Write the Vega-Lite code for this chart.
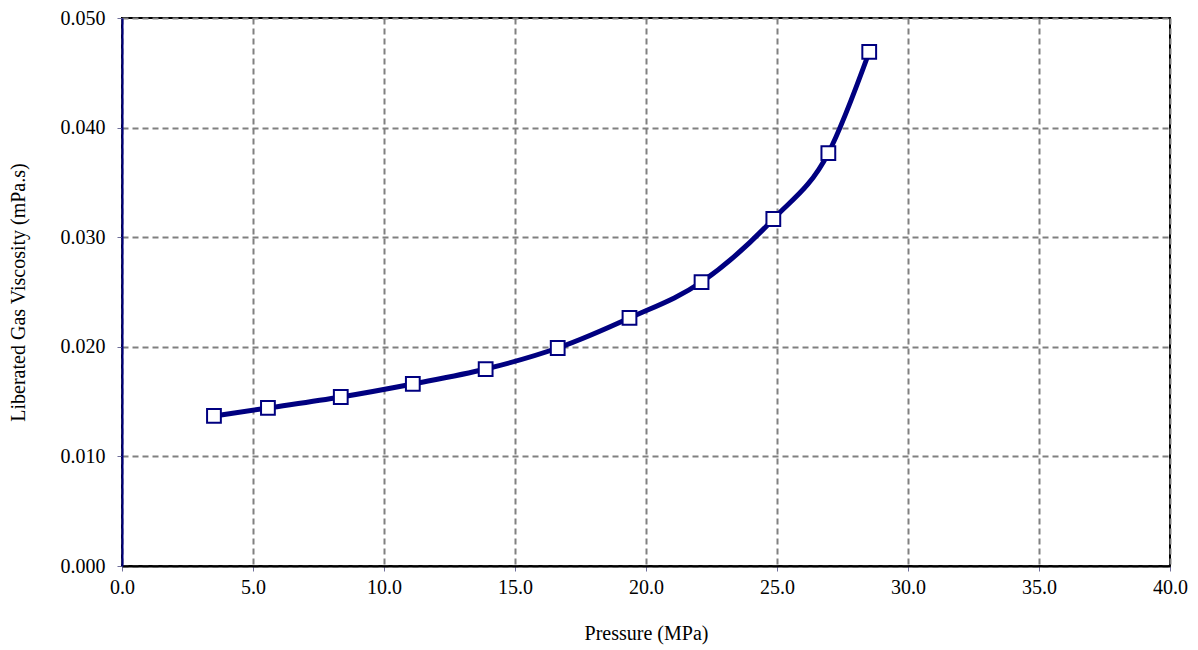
{
  "$schema": "https://vega.github.io/schema/vega-lite/v6.json",
  "width": 1048,
  "height": 548,
  "autosize": {"type": "none"},
  "padding": {"left": 122, "top": 18, "right": 28, "bottom": 84},
  "background": "white",
  "config": {
    "view": {"stroke": "black", "strokeWidth": 2}
  },
  "data": {
    "values": [
      {"pressure": 3.51, "viscosity": 0.01369},
      {"pressure": 5.57, "viscosity": 0.01442},
      {"pressure": 8.35, "viscosity": 0.01542},
      {"pressure": 11.1, "viscosity": 0.01661},
      {"pressure": 13.88, "viscosity": 0.01797},
      {"pressure": 16.63, "viscosity": 0.01989},
      {"pressure": 19.37, "viscosity": 0.02263},
      {"pressure": 22.12, "viscosity": 0.02591},
      {"pressure": 24.86, "viscosity": 0.03166},
      {"pressure": 26.96, "viscosity": 0.03768},
      {"pressure": 28.52, "viscosity": 0.0469}
    ]
  },
  "encoding": {
    "x": {
      "field": "pressure",
      "type": "quantitative",
      "scale": {"domain": [0, 40], "nice": false, "zero": false},
      "axis": {
        "title": "Pressure (MPa)",
        "values": [0, 5, 10, 15, 20, 25, 30, 35, 40],
        "format": ".1f",
        "labelFont": "Liberation Serif",
        "titleFont": "Liberation Serif",
        "labelFontSize": 20,
        "titleFontSize": 20,
        "titleFontWeight": "normal",
        "labelColor": "black",
        "titleColor": "black",
        "labelFlush": false,
        "labelPadding": 6,
        "titlePadding": 26,
        "grid": true,
        "gridColor": "#808080",
        "gridDash": [6, 4],
        "gridWidth": 2,
        "tickColor": "#6f6f9a",
        "tickSize": 5,
        "domainWidth": 2,
        "domainColor": "black"
      }
    },
    "y": {
      "field": "viscosity",
      "type": "quantitative",
      "scale": {"domain": [0, 0.05], "nice": false},
      "axis": {
        "title": "Liberated Gas Viscosity (mPa.s)",
        "values": [0, 0.01, 0.02, 0.03, 0.04, 0.05],
        "format": ".3f",
        "labelFont": "Liberation Serif",
        "titleFont": "Liberation Serif",
        "labelFontSize": 20,
        "titleFontSize": 20,
        "titleFontWeight": "normal",
        "labelColor": "black",
        "titleColor": "black",
        "labelFlush": false,
        "labelPadding": 12,
        "titlePadding": 32,
        "grid": true,
        "gridColor": "#808080",
        "gridDash": [6, 4],
        "gridWidth": 2,
        "tickColor": "#6f6f9a",
        "tickSize": 5,
        "domainWidth": 2,
        "domainColor": "#000080"
      }
    }
  },
  "layer": [
    {
      "mark": {"type": "line", "interpolate": "monotone", "color": "#000080", "strokeWidth": 5}
    },
    {
      "mark": {"type": "point", "shape": "square", "filled": true, "fill": "white", "stroke": "#000080", "strokeWidth": 2, "size": 190, "opacity": 1}
    }
  ]
}
